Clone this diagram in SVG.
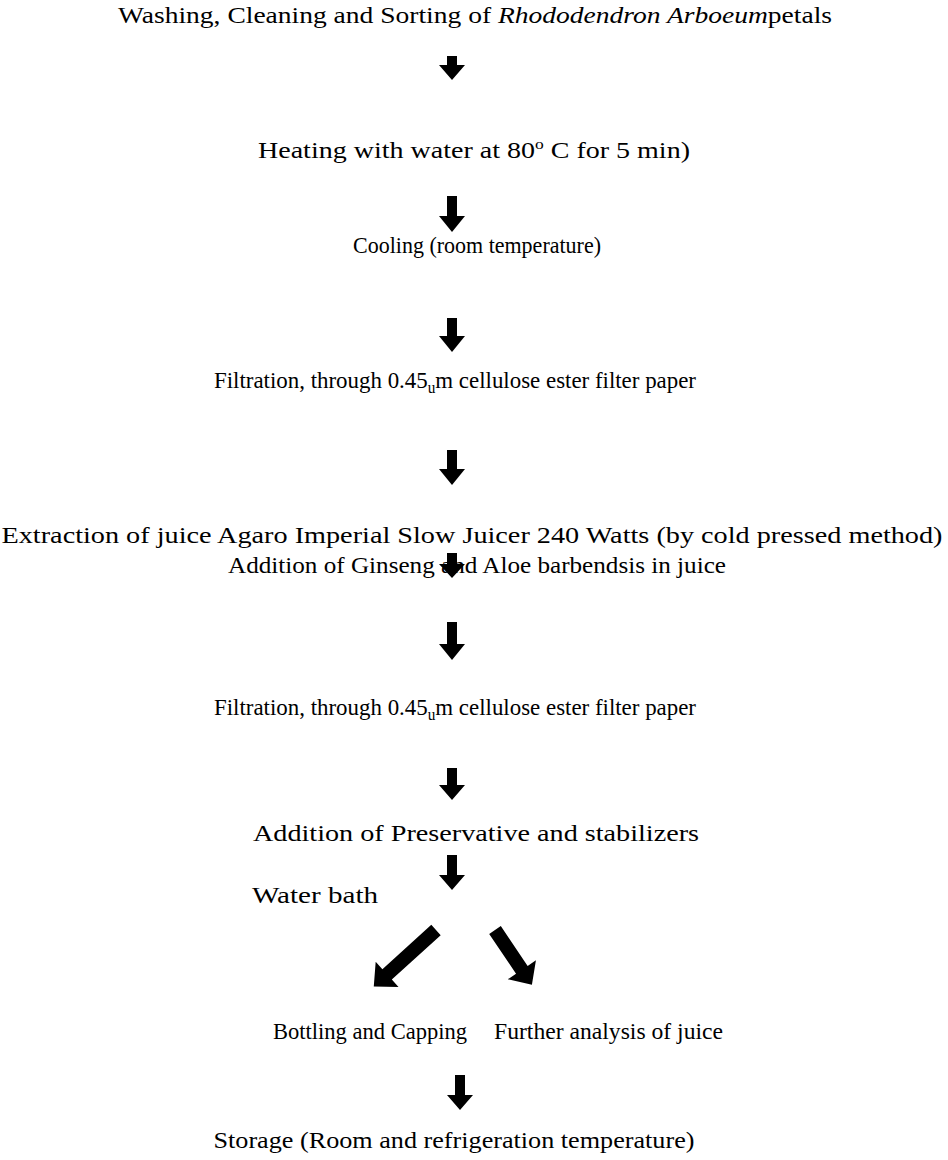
<svg xmlns="http://www.w3.org/2000/svg" width="948" height="1160" viewBox="0 0 948 1160">
<style>
text{font-family:"Liberation Serif","DejaVu Serif",serif;font-size:24px;fill:#000}
.c{text-anchor:middle}
.sub{font-size:16px;baseline-shift:-5px}
.sup{font-size:15px;baseline-shift:9px}
.ar{fill:#000}
</style>
<rect width="948" height="1160" fill="#fff"/>
<g id="n1"><text class="c" x="475" y="23" textLength="714" lengthAdjust="spacingAndGlyphs">Washing, Cleaning and Sorting of <tspan font-style="italic">Rhododendron Arboeum</tspan>petals</text></g>
<g id="n2"><text class="c" x="474" y="158" textLength="432" lengthAdjust="spacingAndGlyphs">Heating with water at 80<tspan class="sup">o</tspan> C for 5 min)</text></g>
<g id="n3"><text class="c" x="477" y="253" textLength="248" lengthAdjust="spacingAndGlyphs">Cooling (room temperature)</text></g>
<g id="n4"><text class="c" x="455" y="388" textLength="482" lengthAdjust="spacingAndGlyphs">Filtration, through 0.45<tspan class="sub">u</tspan>m cellulose ester filter paper</text></g>
<g id="n5"><text class="c" x="472" y="543" textLength="941" lengthAdjust="spacingAndGlyphs">Extraction of juice Agaro Imperial Slow Juicer 240 Watts (by cold pressed method)</text></g>
<g id="n6"><text class="c" x="477" y="573" textLength="498" lengthAdjust="spacingAndGlyphs">Addition of Ginseng and Aloe barbendsis in juice</text></g>
<g id="n7"><text class="c" x="455" y="715" textLength="482" lengthAdjust="spacingAndGlyphs">Filtration, through 0.45<tspan class="sub">u</tspan>m cellulose ester filter paper</text></g>
<g id="n8"><text class="c" x="476" y="841" textLength="446" lengthAdjust="spacingAndGlyphs">Addition of Preservative and stabilizers</text></g>
<g id="n9"><text x="252" y="903" textLength="126" lengthAdjust="spacingAndGlyphs">Water bath</text></g>
<g id="n10"><text x="273" y="1039" textLength="194" lengthAdjust="spacingAndGlyphs">Bottling and Capping</text></g>
<g id="n11"><text x="494" y="1039" textLength="229" lengthAdjust="spacingAndGlyphs">Further analysis of juice</text></g>
<g id="n12"><text class="c" x="454" y="1148" textLength="481" lengthAdjust="spacingAndGlyphs">Storage (Room and refrigeration temperature)</text></g>
<g id="connectors" class="ar">
<path d="M447,56 H457 V65 H465 L452,80 L439,65 H447 Z"/>
<path d="M447,196 H457 V216 H465 L452,232 L439,216 H447 Z"/>
<path d="M447,318 H457 V336 H465 L452,352 L439,336 H447 Z"/>
<path d="M447,450 H457 V469 H465 L452,485 L439,469 H447 Z"/>
<path d="M447,553 H457 V564 H465 L452,578 L439,564 H447 Z"/>
<path d="M447,622 H457 V644 H465 L452,660 L439,644 H447 Z"/>
<path d="M447,768 H457 V785 H465 L452,800 L439,785 H447 Z"/>
<path d="M447,855 H457 V875 H465 L452,890 L439,875 H447 Z"/>
<path d="M-7,0 H7 V66 H17 L0,84 L-17,66 H-7 Z" transform="translate(436,930) rotate(47.8)"/>
<path d="M-7,0 H7 V48 H17 L0,66 L-17,48 H-7 Z" transform="translate(495,930) rotate(-34)"/>
<path d="M455,1075 H465 V1095 H473 L460,1110 L447,1095 H455 Z"/>
</g>
</svg>
